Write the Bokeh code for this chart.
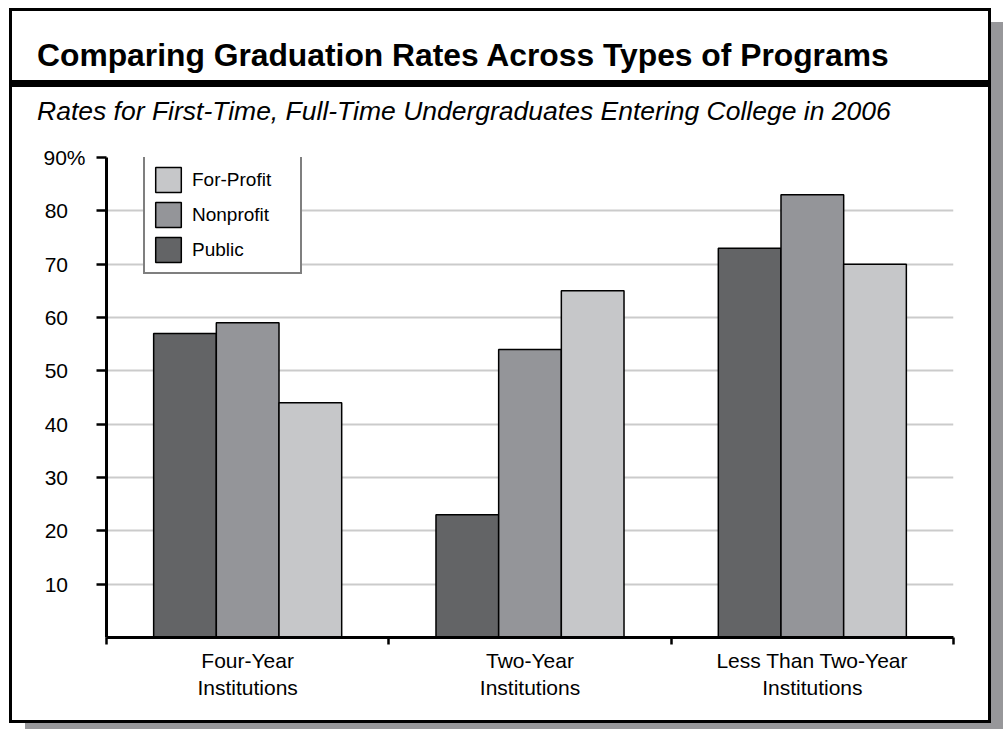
from bokeh.plotting import figure
from bokeh.layouts import column
from bokeh.models import (FactorRange, Range1d, LinearAxis, CategoricalAxis, FixedTicker,
                          ColumnDataSource, Legend, LegendItem, Grid, Div)
from bokeh.transform import dodge
from bokeh.embed import file_html
from bokeh.resources import INLINE

# ---------------- data ----------------
categories = ["Four-Year\nInstitutions", "Two-Year\nInstitutions", "Less Than Two-Year\nInstitutions"]
public = [57, 23, 73]
nonprofit = [59, 54, 83]
for_profit = [44, 65, 70]
y_ticks = [10, 20, 30, 40, 50, 60, 70, 80, 90]
y_tick_labels = ["10", "20", "30", "40", "50", "60", "70", "80", "90%"]
group_edges = [0, 1, 2, 3]   # synthetic positions of the category boundaries
title_text = "Comparing Graduation Rates Across Types of Programs"
subtitle_text = "Rates for First-Time, Full-Time Undergraduates Entering College in 2006"

# ---------------- style ----------------
FONT = "Liberation Sans"
C_PUBLIC = "#636466"
C_NONPROFIT = "#949599"
C_FORPROFIT = "#c6c7c9"
SHADOW = "#97979a"
BOX_W, BOX_H = 982, 715
HEAD_H = 128

# ---------------- header (title, rule, subtitle) ----------------
def top_for_baseline(baseline, fs):
    return baseline - 0.8465 * fs

T_FS, S_FS = 31.8, 26.5
header_html = f"""
<div style="position:relative;width:{BOX_W}px;height:{HEAD_H}px;background:transparent;overflow:hidden;">
  <div style="position:absolute;left:28px;top:{top_for_baseline(58.7, T_FS):.1f}px;white-space:nowrap;
       font-family:'{FONT}';font-weight:bold;font-size:{T_FS}px;line-height:1;color:black;">{title_text}</div>
  <div style="position:absolute;left:0px;top:72px;width:{BOX_W}px;height:7px;background:black;"></div>
  <div style="position:absolute;left:28px;top:{top_for_baseline(112.7, S_FS):.1f}px;white-space:nowrap;
       font-family:'{FONT}';font-style:italic;font-size:{S_FS}px;line-height:1;color:black;">{subtitle_text}</div>
</div>
"""
header = Div(text=header_html, width=BOX_W, height=HEAD_H, margin=0)

# ---------------- chart ----------------
P_H = BOX_H - HEAD_H
p = figure(width=BOX_W, height=P_H, output_backend="svg", toolbar_location=None,
           x_range=FactorRange(*categories, range_padding=0),
           y_range=Range1d(0, 90),
           x_axis_location=None, y_axis_location=None,
           min_border_left=97, min_border_right=38, min_border_top=21, min_border_bottom=P_H - 501,
           background_fill_color="white", border_fill_color=None,
           outline_line_color=None, margin=0)
p.center = [r for r in p.center if not isinstance(r, Grid)]

grid = Grid(dimension=1, ticker=FixedTicker(ticks=y_ticks),
            grid_line_color="#cbcbcb", grid_line_width=2)
p.add_layout(grid, "center")

# y axis; shorter labels padded with figure/punctuation spaces so that all start at one left edge
pad = "\u2007\u2008"
overrides = {t: (lbl if lbl.endswith("%") else lbl + pad) for t, lbl in zip(y_ticks, y_tick_labels)}
yax = LinearAxis(ticker=FixedTicker(ticks=y_ticks), major_label_overrides=overrides,
                 major_label_text_font=FONT, major_label_text_font_size="21px",
                 major_label_text_color="black", major_label_standoff=11,
                 major_tick_out=10, major_tick_in=0, axis_line_width=3,
                 major_tick_line_width=2.5, minor_tick_line_color=None)
p.add_layout(yax, "left")

# x axis: boundary ticks, then category labels
xedge = LinearAxis(ticker=FixedTicker(ticks=group_edges),
                   major_label_text_font_size="1px", major_label_text_color=None,
                   major_label_standoff=0,
                   major_tick_out=7, major_tick_in=0, axis_line_width=3,
                   major_tick_line_width=2.5, minor_tick_line_color=None)
p.add_layout(xedge, "below")
xcat = CategoricalAxis(axis_line_color=None, major_tick_line_color=None,
                       minor_tick_line_color=None, major_label_standoff=-2,
                       major_label_text_font=FONT, major_label_text_font_size="21px",
                       major_label_text_color="black")
p.add_layout(xcat, "below")

# bars
src = ColumnDataSource(dict(cat=categories, public=public, nonprofit=nonprofit, for_profit=for_profit))
bw = 0.222
r_pu = p.vbar(x=dodge("cat", -bw, range=p.x_range), top="public", width=bw, source=src,
              fill_color=C_PUBLIC, line_color="black", line_width=1.5)
r_np = p.vbar(x=dodge("cat", 0, range=p.x_range), top="nonprofit", width=bw, source=src,
              fill_color=C_NONPROFIT, line_color="black", line_width=1.5)
r_fp = p.vbar(x=dodge("cat", bw, range=p.x_range), top="for_profit", width=bw, source=src,
              fill_color=C_FORPROFIT, line_color="black", line_width=1.5)

legend = Legend(items=[LegendItem(label="For-Profit", renderers=[r_fp]),
                       LegendItem(label="Nonprofit", renderers=[r_np]),
                       LegendItem(label="Public", renderers=[r_pu])],
                location=(37, 363), orientation="vertical",
                glyph_width=32, glyph_height=31, label_height=25, label_width=101,
                label_standoff=8, padding=7, spacing=4, margin=0,
                label_text_font=FONT, label_text_font_size="19px", label_text_color="black",
                border_line_color="black", border_line_width=2.5,
                background_fill_color="white", background_fill_alpha=1)
p.add_layout(legend, "center")

layout = column(header, p, spacing=0, margin=(8, 0, 0, 9),
                styles={"box-shadow": f"16px 14px 0 0 {SHADOW}, inset 0 0 0 3px black",
                        "background-color": "white"})

open("out.html", "w").write(file_html(layout, INLINE))
